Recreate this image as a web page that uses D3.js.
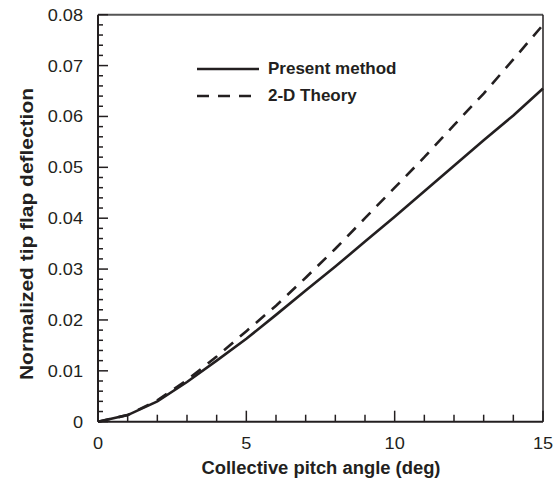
<!DOCTYPE html>
<html><head><meta charset="utf-8">
<script src="https://cdn.jsdelivr.net/npm/d3@7"></script>
<style>body{margin:0;background:#fff}svg{display:block}text{font-family:"Liberation Sans",Arial,sans-serif;fill:#231f20}</style>
</head><body><div id="c"></div>
<script>
const pitch = [0,1,2,3,4,5,6,7,8,9,10,11,12,13,14,15];
const presentMethod = [0,0.0013,0.0040,0.0078,0.0120,0.0163,0.0210,0.0258,0.0305,0.0354,0.0403,0.0453,0.0503,0.0553,0.0602,0.0655];
const theory2D = [0,0.0013,0.0042,0.0082,0.0128,0.0178,0.0228,0.0283,0.0340,0.0400,0.0460,0.0520,0.0583,0.0645,0.0712,0.0780];
const xTicks = [0,5,10,15];
const yTicks = [0,0.01,0.02,0.03,0.04,0.05,0.06,0.07,0.08];
const legendLabels = ["Present method","2-D Theory"];

const W=555,H=486, L=98,R=543,T=14.7,B=421.7;
const svg=d3.select("#c").append("svg").attr("width",W).attr("height",H);
const x=d3.scaleLinear().domain([0,15]).range([L,R]);
const y=d3.scaleLinear().domain([0,0.08]).range([B,T]);
const ink="#231f20";

// frame: top and right
svg.append("line").attr("x1",L).attr("x2",R).attr("y1",T).attr("y2",T).attr("stroke","#555").attr("stroke-width",2);
svg.append("line").attr("x1",R).attr("x2",R).attr("y1",T).attr("y2",B).attr("stroke",ink).attr("stroke-width",1.5);

// ticks
svg.append("g").selectAll("line").data(d3.range(0,16)).join("line")
 .attr("x1",d=>x(d)).attr("x2",d=>x(d)).attr("y1",B).attr("y2",d=>B-(d%5===0?11:7))
 .attr("stroke",ink).attr("stroke-width",1.5);
svg.append("g").selectAll("line").data(d3.range(0,41)).join("line")
 .attr("y1",d=>y(d*0.002)).attr("y2",d=>y(d*0.002)).attr("x1",L).attr("x2",d=>L+(d%5===0?10:5))
 .attr("stroke",ink).attr("stroke-width",1.5);

// axes lines
svg.append("line").attr("x1",L).attr("x2",R).attr("y1",B).attr("y2",B).attr("stroke",ink).attr("stroke-width",2);
svg.append("line").attr("x1",L).attr("x2",L).attr("y1",T).attr("y2",B).attr("stroke",ink).attr("stroke-width",2);

// tick labels (slightly wide face)
svg.append("g").selectAll("text").data(xTicks).join("text")
 .attr("transform",d=>`translate(${x(d)},448.5) scale(1.1,1)`).attr("text-anchor","middle").attr("font-size",16.5).text(d=>d);
svg.append("g").selectAll("text").data(yTicks).join("text")
 .attr("transform",d=>`translate(83,${y(d)+6}) scale(1.1,1)`).attr("text-anchor","end").attr("font-size",16.5).text(d=>d===0?"0":d.toFixed(2));

// axis titles
svg.append("text").attr("x",321).attr("y",474).attr("text-anchor","middle").attr("font-size",17.5).attr("font-weight","bold")
 .attr("textLength",239).attr("lengthAdjust","spacingAndGlyphs").text("Collective pitch angle (deg)");
svg.append("text").attr("transform",`translate(33,234) rotate(-90)`).attr("text-anchor","middle").attr("font-size",18).attr("font-weight","bold")
 .attr("textLength",292).attr("lengthAdjust","spacingAndGlyphs").text("Normalized tip flap deflection");

// lines
const line=d3.line().x((d,i)=>x(pitch[i])).y(d=>y(d));
svg.append("path").datum(theory2D).attr("d",line).attr("fill","none").attr("stroke",ink).attr("stroke-width",2.6).attr("stroke-dasharray","12,9");
svg.append("path").datum(presentMethod).attr("d",line).attr("fill","none").attr("stroke",ink).attr("stroke-width",2.6);

// legend
const lg=svg.append("g");
[0,1].forEach(i=>{
  const yy=69+i*27;
  lg.append("line").attr("x1",197).attr("x2",259).attr("y1",yy).attr("y2",yy).attr("stroke",ink).attr("stroke-width",2.6)
    .attr("stroke-dasharray",i?"12,9":null);
  lg.append("text").attr("x",268).attr("y",yy+4.5).attr("font-size",17).attr("font-weight","bold").text(legendLabels[i]);
});
</script></body></html>
